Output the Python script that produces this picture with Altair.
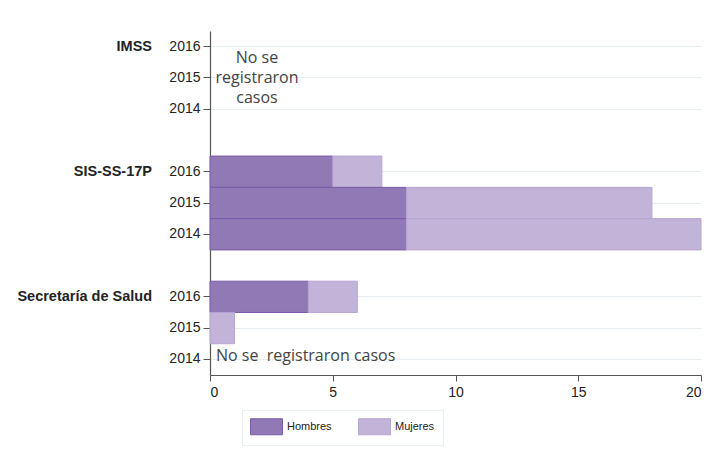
import altair as alt
import pandas as pd

groups = ["IMSS", "SIS-SS-17P", "Secretaría de Salud"]
years = ["2016", "2015", "2014"]
hombres = {"IMSS": [0, 0, 0], "SIS-SS-17P": [5, 8, 8], "Secretaría de Salud": [4, 0, 0]}
mujeres = {"IMSS": [0, 0, 0], "SIS-SS-17P": [2, 10, 12], "Secretaría de Salud": [2, 1, 0]}
sexes = ["Hombres", "Mujeres"]
fill_colors = ["#9179b5", "#c2b3d9"]
stroke_colors = ["#7a5aa8", "#b6a4d3"]
x_ticks = [0, 5, 10, 15, 20]

notes = [
    {"row": "IMSS|2015", "text": ["No se", "registraron", "casos"]},
]
note_ss = {"row": "Secretaría de Salud|2014", "text": "No se\u00a0 registraron casos"}

# domain with spacer rows between groups
domain = []
real_rows = []
for gi, g in enumerate(groups):
    for y in years:
        domain.append(f"{g}|{y}")
        real_rows.append(f"{g}|{y}")
    if gi < len(groups) - 1:
        domain.append(" " * (gi + 1))

rows = []
for g in groups:
    for i, y in enumerate(years):
        for si, (s, vals) in enumerate(zip(sexes, [hombres[g], mujeres[g]])):
            v = vals[i]
            if v > 0:
                rows.append({"row": f"{g}|{y}", "sexo": s, "valor": v, "orden": si})
df = pd.DataFrame(rows)

label_df = pd.DataFrame([{"row": f"{g}|2016", "label": g} for g in groups])

y_enc = alt.Y("row:N", scale=alt.Scale(domain=domain, paddingInner=0, paddingOuter=0),
              axis=alt.Axis(values=real_rows, labelExpr="split(datum.value, '|')[1]",
                            title=None, tickSize=7, labelPadding=3, labelFontSize=14,
                            labelColor="#222", labelFont="Liberation Sans",
                            domainColor="#555", tickColor="#555", grid=True,
                            gridColor="#e6eef1", gridWidth=1.2))

bars = alt.Chart(df).mark_bar(strokeWidth=1).encode(
    x=alt.X("valor:Q", stack="zero",
            scale=alt.Scale(domain=[0, 20], nice=False),
            axis=alt.Axis(values=x_ticks, title=None, grid=False, labelFontSize=14,
                          labelColor="#222", labelFont="Liberation Sans", tickSize=6,
                          domainColor="#555", tickColor="#555", labelPadding=4)),
    y=y_enc,
    fill=alt.Fill("sexo:N", scale=alt.Scale(domain=sexes, range=fill_colors),
                  legend=alt.Legend(title=None, orient="none", legendX=32, legendY=379,
                                    direction="horizontal",
                                    symbolType="M-2,-1H2V1H-2Z", symbolSize=256,
                                    symbolOffset=8, labelOffset=12,
                                    symbolStrokeWidth=1, labelFontSize=11,
                                    labelFont="Liberation Sans", labelColor="#222",
                                    columnPadding=24, padding=8,
                                    strokeColor="#e6eeee", symbolOpacity=1)),
    stroke=alt.Stroke("sexo:N", scale=alt.Scale(domain=sexes, range=stroke_colors),
                      legend=None),
    order=alt.Order("orden:Q"),
)

group_labels = alt.Chart(label_df).mark_text(
    align="right", baseline="middle", fontWeight="bold", fontSize=14.5,
    font="Liberation Sans", color="#222"
).encode(y=alt.Y("row:N", scale=alt.Scale(domain=domain)), x=alt.value(-58), text="label:N")

note1 = alt.Chart(pd.DataFrame(notes)).mark_text(
    align="center", baseline="middle", fontSize=16, lineHeight=20, dy=-20,
    font="Open Sans", color="#444"
).encode(y=alt.Y("row:N"), x=alt.value(47), text="text")

note2 = alt.Chart(pd.DataFrame([note_ss])).mark_text(
    align="left", baseline="middle", fontSize=16, dy=-3,
    font="Open Sans", color="#444"
).encode(y=alt.Y("row:N"), x=alt.value(6), text="text:N")

chart = alt.layer(bars, group_labels, note1, note2).properties(
    width=491, height=344,
    padding={"top": 23, "left": 9, "right": 10, "bottom": 5},
).configure_view(stroke=None).configure_axis(domainWidth=1.2)

chart.save("out.html", embed_options={"renderer": "svg", "actions": False})
